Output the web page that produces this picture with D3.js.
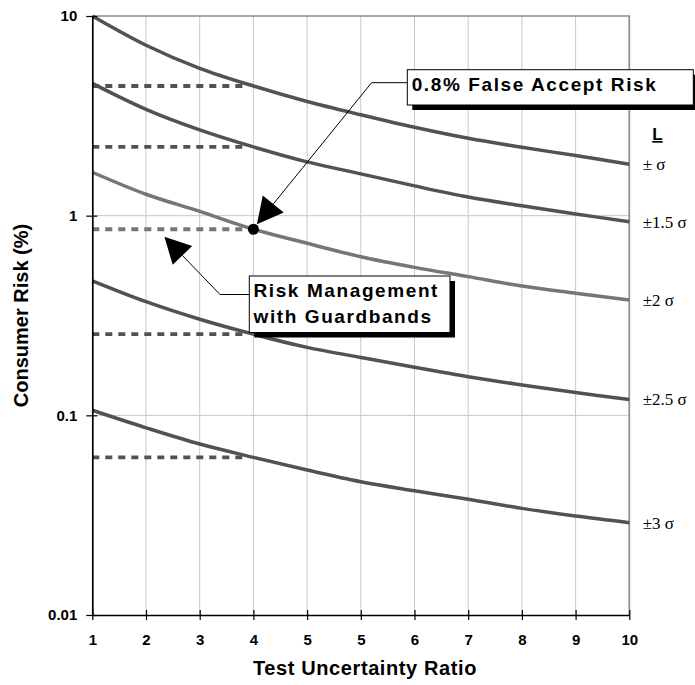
<!DOCTYPE html>
<html lang="en">
<head>
<meta charset="UTF-8">
<title>Consumer Risk vs Test Uncertainty Ratio</title>
<style>
    body{
        margin: 0;
        background-color: #ffffff;
    }
    svg{
        display: block;
    }
    .axis text{
        font-family: "Liberation Sans", Arial, sans-serif;
        font-weight: bold;
        font-size: 15px;
        fill: #000;
    }
    .axis .domain{
        stroke: #000;
        stroke-width: 1.7px;
    }
    .axis .tick line{
        stroke: #000;
        stroke-width: 1.2px;
    }
    .grid line{
        stroke: #c8c8c8;
        stroke-width: 1px;
    }
    .frame{
        stroke: #8c8c8c;
        stroke-width: 1.7px;
    }
    .riskLine{
        fill: none;
        stroke-width: 3.5px;
    }
    .guard{
        stroke-width: 3.8px;
        stroke-dasharray: 7 6;
    }
    .axisTitle{
        font-family: "Liberation Sans", Arial, sans-serif;
        font-weight: bold;
        font-size: 20px;
        fill: #000;
    }
    .limitLabel{
        font-family: "Liberation Serif", "Times New Roman", serif;
        font-size: 17px;
        fill: #000;
    }
    .legendTitle{
        font-family: "Liberation Sans", Arial, sans-serif;
        font-weight: bold;
        font-size: 17px;
        text-decoration: underline;
    }
    .note text{
        font-family: "Liberation Sans", Arial, sans-serif;
        font-weight: bold;
        font-size: 19px;
        letter-spacing: 1.6px;
        fill: #000;
    }
    .note .box{
        fill: #fff;
        stroke: #000;
        stroke-width: 1px;
    }
    .note .shadow{
        fill: #000;
    }
    .leader{
        stroke: #000;
        stroke-width: 1px;
        fill: none;
    }
</style>
<script src="https://cdn.jsdelivr.net/npm/d3@7"></script>
</head>
<body>
<script>
    // x categories (test uncertainty ratio), as printed on the axis
    const turLabels = ["1", "2", "3", "4", "5", "5", "6", "7", "8", "9", "10"];

    // consumer risk (%) for each guardband limit L
    const riskSigma1  = [10.0, 7.14, 5.47, 4.46, 3.73, 3.20, 2.77, 2.44, 2.20, 2.00, 1.81];
    const riskSigma15 = [4.60, 3.41, 2.69, 2.21, 1.86, 1.62, 1.41, 1.24, 1.12, 1.02, 0.933];
    const riskSigma2  = [1.65, 1.28, 1.05, 0.855, 0.727, 0.623, 0.551, 0.495, 0.444, 0.409, 0.378];
    const riskSigma25 = [0.472, 0.371, 0.303, 0.255, 0.219, 0.195, 0.174, 0.156, 0.142, 0.130, 0.120];
    const riskSigma3  = [0.106, 0.0866, 0.0718, 0.0616, 0.0532, 0.0465, 0.0419, 0.0380, 0.0342, 0.0313, 0.0290];

    const limitLabels = ["\u00B1 \u03C3", "\u00B11.5 \u03C3", "\u00B12 \u03C3", "\u00B12.5 \u03C3", "\u00B13 \u03C3"];
    const yTicks = [0.01, 0.1, 1, 10];

    const width = 695;
    const height = 685;
    const margins = {
        top: 16,
        bottom: 70,
        left: 92.3,
        right: 65.7
    };

    const series = [
        {label: limitLabels[0], values: riskSigma1,  color: "#525252"},
        {label: limitLabels[1], values: riskSigma15, color: "#525252"},
        {label: limitLabels[2], values: riskSigma2,  color: "#767676"},
        {label: limitLabels[3], values: riskSigma25, color: "#525252"},
        {label: limitLabels[4], values: riskSigma3,  color: "#525252"}
    ];

    const svg = d3.select("body").append("svg")
        .attr("width", width)
        .attr("height", height);

    const x = d3.scalePoint()
        .domain(d3.range(turLabels.length))
        .range([margins.left, width - margins.right]);

    const y = d3.scaleLog()
        .domain([0.01, 10])
        .range([height - margins.bottom, margins.top]);

    /* ------------- grid lines ----------------- */
    const grid = svg.append("g").attr("class", "grid");
    grid.selectAll(".vgrid")
        .data(d3.range(1, turLabels.length - 1))
        .enter()
        .append("line")
        .attr("x1", d => x(d)).attr("x2", d => x(d))
        .attr("y1", y(10)).attr("y2", y(0.01));
    grid.selectAll(".hgrid")
        .data([0.1, 1])
        .enter()
        .append("line")
        .attr("x1", x(0)).attr("x2", x(turLabels.length - 1))
        .attr("y1", d => y(d)).attr("y2", d => y(d));

    // grey top and right border of the plot area
    svg.append("path")
        .attr("class", "frame")
        .attr("fill", "none")
        .attr("d", `M${x(0)},${y(10)}H${x(turLabels.length - 1)}V${y(0.01)}`);

    /* ------------- guardband dashed lines at TUR 4 ----------------- */
    const guardIdx = 3;
    svg.append("g").selectAll("line")
        .data(series)
        .enter()
        .append("line")
        .attr("class", "guard")
        .attr("stroke", d => d.color)
        .attr("x1", x(0))
        .attr("x2", x(guardIdx) - 6.5)
        .attr("y1", d => y(d.values[guardIdx]))
        .attr("y2", d => y(d.values[guardIdx]));

    /* ------------- risk curves ----------------- */
    const lineGen = d3.line()
        .x((d, i) => x(i))
        .y(d => y(d))
        .curve(d3.curveCatmullRom.alpha(0.5));

    svg.append("g").selectAll("path")
        .data(series)
        .enter()
        .append("path")
        .attr("class", "riskLine")
        .attr("stroke", d => d.color)
        .attr("d", d => lineGen(d.values));

    /* ------------- axes ----------------- */
    const xAxis = svg.append("g")
        .attr("class", "axis")
        .attr("transform", `translate(0,${y(0.01)})`)
        .call(d3.axisBottom(x)
            .tickFormat(i => turLabels[i])
            .tickSize(5)
            .tickSizeOuter(0)
            .tickPadding(14));
    xAxis.selectAll(".tick line").attr("y1", -5);

    const yAxis = svg.append("g")
        .attr("class", "axis")
        .attr("transform", `translate(${x(0)},0)`)
        .call(d3.axisLeft(y)
            .tickValues(yTicks)
            .tickFormat(d3.format("~g"))
            .tickSize(6)
            .tickSizeOuter(0)
            .tickPadding(9));
    yAxis.selectAll(".tick line").attr("x1", 5);

    svg.append("text")
        .attr("class", "axisTitle")
        .attr("x", 365)
        .attr("y", 675)
        .attr("text-anchor", "middle")
        .attr("font-size", 21)
        .style("letter-spacing", "0.6px")
        .text("Test Uncertainty Ratio");

    svg.append("text")
        .attr("class", "axisTitle")
        .attr("text-anchor", "middle")
        .attr("transform", "translate(28,315.5) rotate(-90)")
        .text("Consumer Risk (%)");

    /* ------------- right hand labels ----------------- */
    svg.append("text")
        .attr("class", "legendTitle")
        .attr("x", 657.5)
        .attr("y", 140)
        .attr("text-anchor", "middle")
        .text("L");

    svg.append("g").selectAll("text")
        .data(series)
        .enter()
        .append("text")
        .attr("class", "limitLabel")
        .attr("x", x(turLabels.length - 1) + 13.4)
        .attr("y", d => y(d.values[turLabels.length - 1]))
        .attr("dy", "0.35em")
        .text(d => d.label);

    /* ------------- annotations ----------------- */
    const dotX = x(guardIdx);
    const dotY = y(riskSigma2[guardIdx]);
    svg.append("circle")
        .attr("cx", dotX)
        .attr("cy", dotY)
        .attr("r", 5.5)
        .attr("fill", "#000");

    // arrow head as a triangle pointing along the leader
    function arrowHead(from, tip, len, halfW) {
        const dx = tip[0] - from[0], dy = tip[1] - from[1];
        const l = Math.hypot(dx, dy);
        const ux = dx / l, uy = dy / l;
        const base = [tip[0] - len * ux, tip[1] - len * uy];
        return {
            base: base,
            pts: [tip, [base[0] - halfW * uy, base[1] + halfW * ux], [base[0] + halfW * uy, base[1] - halfW * ux]]
        };
    }

    const notes = [
        {
            lines: ["0.8% False Accept Risk"],
            box: [407.3, 69.7, 286, 35.3],
            textX: 411.7, textY: [90.7],
            elbow: [[407.3, 82.7], [371.6, 82.7]],
            tip: [dotX + 3.5, dotY - 5]
        },
        {
            lines: ["Risk Management", "with Guardbands"],
            box: [249.3, 276, 200.7, 56.5],
            textX: 253.5, textY: [297, 323],
            elbow: [[249.3, 294.5], [220, 294.5]],
            tip: [164.4, 236.7]
        }
    ];

    notes.forEach(n => {
        const g = svg.append("g").attr("class", "note");
        const head = arrowHead(n.elbow[1], n.tip, 26, 13.5);
        g.append("path")
            .attr("class", "leader")
            .attr("d", d3.line()([n.elbow[0], n.elbow[1], head.base]));
        g.append("polygon")
            .attr("points", head.pts.map(p => p.join(",")).join(" "))
            .attr("fill", "#000");
        g.append("rect")
            .attr("class", "shadow")
            .attr("x", n.box[0] + 5).attr("y", n.box[1] + 5)
            .attr("width", n.box[2]).attr("height", n.box[3]);
        g.append("rect")
            .attr("class", "box")
            .attr("x", n.box[0]).attr("y", n.box[1])
            .attr("width", n.box[2]).attr("height", n.box[3]);
        g.selectAll("text")
            .data(n.lines)
            .enter()
            .append("text")
            .attr("x", n.textX)
            .attr("y", (d, i) => n.textY[i])
            .text(d => d);
    });
</script>
</body>
</html>
